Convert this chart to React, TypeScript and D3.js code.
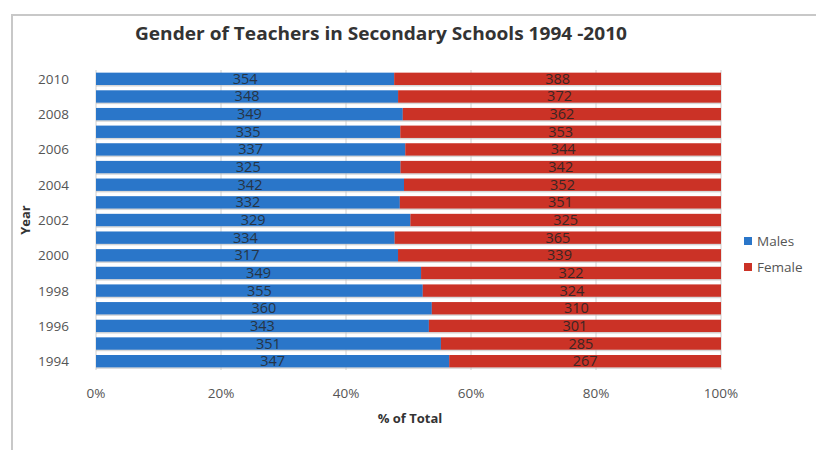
import React from "react";
import * as d3 from "d3";

const years = [2010, 2009, 2008, 2007, 2006, 2005, 2004, 2003, 2002, 2001, 2000, 1999, 1998, 1997, 1996, 1995, 1994];
const males = [354, 348, 349, 335, 337, 325, 342, 332, 329, 334, 317, 349, 355, 360, 343, 351, 347];
const females = [388, 372, 362, 353, 344, 342, 352, 351, 325, 365, 339, 322, 324, 310, 301, 285, 267];
const xTicks = [0, 0.2, 0.4, 0.6, 0.8, 1];
const yTickYears = [2010, 2008, 2006, 2004, 2002, 2000, 1998, 1996, 1994];
const seriesNames = ["Males", "Female"];
const colors = ["#2A76C9", "#CB3226"];

export default function App() {
  const W = 816, H = 450;
  const x = d3.scaleLinear().domain([0, 1]).range([96, 721]);
  const y = d3.scaleBand<number>().domain(years).range([70, 370]).paddingInner(0.3).paddingOuter(0.15);
  const font = "'Open Sans', 'Liberation Sans', sans-serif";
  const bh = y.bandwidth();
  return (
    <svg width={W} height={H} style={{ position: "absolute", left: 0, top: 0, background: "#fff" }}>
      <rect x={0} y={0} width={W} height={H} fill="#fff" />
      <path d={`M12,${H} L12,15 L${W},15`} fill="none" stroke="#c8c8c8" strokeWidth={2} />
      <text x={381} y={40} textAnchor="middle" fontFamily={font} fontWeight="bold" fontSize={18.5} fill="#333" textLength={492} lengthAdjust="spacingAndGlyphs">
        Gender of Teachers in Secondary Schools 1994 -2010
      </text>
      {xTicks.map((t) => (
        <line key={t} x1={x(t)} x2={x(t)} y1={70} y2={370} stroke="#d0d0d0" strokeWidth={1} />
      ))}
      {years.map((yr, i) => {
        const total = males[i] + females[i];
        const m = males[i] / total;
        const yy = y(yr)!;
        return (
          <g key={yr}>
            <rect x={x(0)} y={yy + 1.5} width={x(1) - x(0)} height={bh} fill="#bdbdbd" opacity={0.6} />
            <rect x={x(0)} y={yy} width={x(m) - x(0)} height={bh} fill={colors[0]} />
            <rect x={x(m)} y={yy} width={x(1) - x(m)} height={bh} fill={colors[1]} />
            <text x={(x(0) + x(m)) / 2} y={yy + bh / 2 + 5} textAnchor="middle" fontFamily={font} fontSize={14.5} fill="#263444">
              {males[i]}
            </text>
            <text x={(x(m) + x(1)) / 2} y={yy + bh / 2 + 5} textAnchor="middle" fontFamily={font} fontSize={14.5} fill="#3a2624">
              {females[i]}
            </text>
          </g>
        );
      })}
      {yTickYears.map((yr) => (
        <text key={yr} x={69} y={y(yr)! + bh / 2 + 5} textAnchor="end" fontFamily={font} fontSize={13.5} fill="#555">
          {yr}
        </text>
      ))}
      {xTicks.map((t) => (
        <text key={t} x={x(t)} y={398} textAnchor="middle" fontFamily={font} fontSize={13.5} fill="#555">
          {d3.format(".0%")(t)}
        </text>
      ))}
      <text x={410} y={423} textAnchor="middle" fontFamily={font} fontWeight="bold" fontSize={13} fill="#333">
        % of Total
      </text>
      <text transform="translate(30,220) rotate(-90)" textAnchor="middle" fontFamily={font} fontWeight="bold" fontSize={13} fill="#333">
        Year
      </text>
      {seriesNames.map((s, i) => (
        <g key={s}>
          <rect x={744} y={237 + i * 26} width={8} height={8} fill={colors[i]} />
          <text x={757} y={246 + i * 26} fontFamily={font} fontSize={13.5} fill="#555">
            {s}
          </text>
        </g>
      ))}
    </svg>
  );
}
